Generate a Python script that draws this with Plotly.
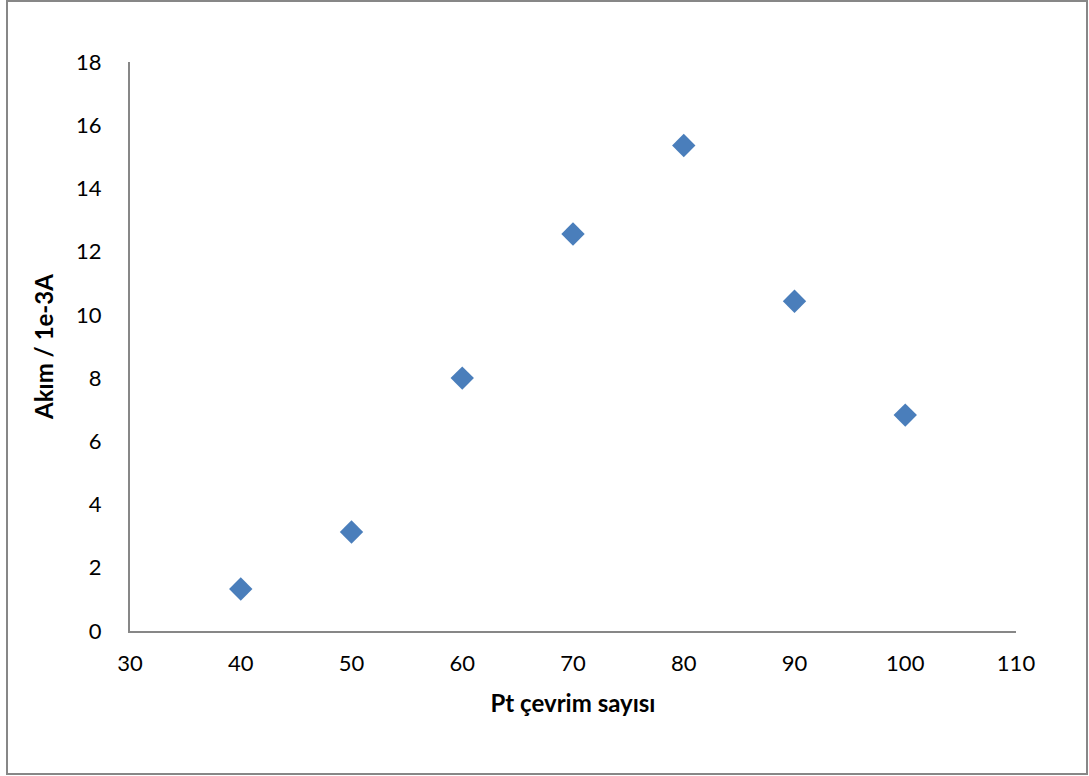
import plotly.graph_objects as go

cycles = [40, 50, 60, 70, 80, 90, 100]
current = [1.33, 3.13, 8.0, 12.56, 15.36, 10.43, 6.83]

x_title = "Pt çevrim sayısı"
y_title = "Akım / 1e-3A"

W, H = 1089, 776
L, R, T, B = 130, 73, 62, 145
pw, ph = W - L - R, H - T - B

fig = go.Figure()
fig.add_trace(go.Scatter(
    x=cycles, y=current, mode="markers",
    marker=dict(symbol="diamond", size=18, color="#4a7ebb",
                line=dict(width=0)),
    showlegend=False,
))

font = "Lato, Calibri, Carlito, sans-serif"
fig.update_layout(
    width=W, height=H,
    margin=dict(l=L, r=R, t=T, b=B),
    paper_bgcolor="white", plot_bgcolor="white",
    font=dict(family=font, size=22, color="black"),
    xaxis=dict(range=[30, 110], tickvals=list(range(30, 111, 10)),
               showgrid=False, zeroline=False, showline=True,
               linecolor="#878787", linewidth=2, ticks="",
               ticklabelstandoff=12,
               title=dict(text="<b>" + x_title + "</b>", font=dict(size=24), standoff=20)),
    yaxis=dict(range=[0, 18], tickvals=list(range(0, 19, 2)),
               showgrid=False, zeroline=False, showline=True,
               linecolor="#878787", linewidth=2, ticks="",
               ticklabelstandoff=22,
               title=dict(text="<b>" + y_title + "</b>", font=dict(size=24), standoff=16)),
)

fig.add_shape(type="rect", xref="paper", yref="paper",
              x0=(7 - L) / pw, x1=(1087 - L) / pw,
              y0=-(774 - T - ph) / ph, y1=1 + (T - 1) / ph,
              line=dict(color="#878787", width=2), fillcolor="rgba(0,0,0,0)",
              layer="below")

fig.write_html("out.html", config={"displayModeBar": False},
               post_script="document.body.style.margin='0';document.body.style.padding='0';")
